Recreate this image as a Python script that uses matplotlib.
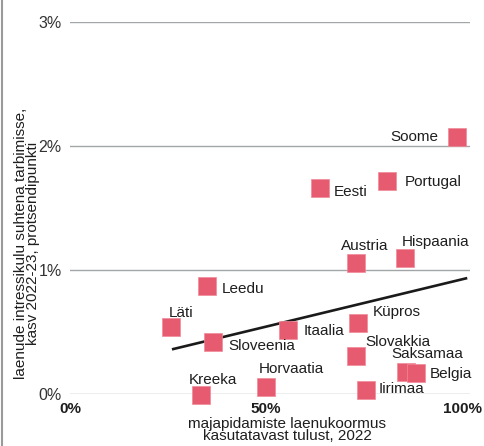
import matplotlib
matplotlib.use("Agg")
import matplotlib.pyplot as plt
from matplotlib.lines import Line2D

plt.rcParams['font.family'] = ['Liberation Sans', 'DejaVu Sans']

# data
countries = ["Soome", "Eesti", "Portugal", "Austria", "Hispaania", "Leedu", "Läti",
             "Sloveenia", "Itaalia", "Küpros", "Slovakkia", "Saksamaa", "Belgia",
             "Iirimaa", "Horvaatia", "Kreeka"]
debt_burden = [98.7, 63.8, 80.9, 73.0, 85.5, 34.9, 25.8, 36.5, 55.6, 73.5, 73.0,
               85.7, 88.3, 75.5, 50.0, 33.4]
interest_growth = [2.07, 1.66, 1.72, 1.06, 1.10, 0.87, 0.54, 0.42, 0.52, 0.57, 0.31,
                   0.18, 0.17, 0.03, 0.06, -0.01]
trend_x = [26.0, 101.3]
trend_y = [0.36, 0.935]
y_ticks = [0, 1, 2, 3]
x_ticks = [0, 50, 100]

# label placement (pixel offsets from marker, alignment)
label_pos = {
    "Soome": (-19, -4, "right"), "Eesti": (14, -8, "left"),
    "Portugal": (17, -5, "left"), "Austria": (8, 13, "center"),
    "Hispaania": (-4, 12, "left"), "Leedu": (15, -7, "left"),
    "Läti": (10, 10, "center"), "Sloveenia": (15, -8, "left"),
    "Itaalia": (16, -5, "left"), "Küpros": (15, 7, "left"),
    "Slovakkia": (9, 10, "left"), "Saksamaa": (-15, 14, "left"),
    "Belgia": (13, -5, "left"), "Iirimaa": (13, -3, "left"),
    "Horvaatia": (-7, 14, "left"), "Kreeka": (-12, 11, "left"),
}

W, H = 484, 446
fig = plt.figure(figsize=(W / 100, H / 100), dpi=100)
x0, x1 = 70, 470
y0, y1 = 394, 22
ax = fig.add_axes([x0 / W, (H - y0) / H, (x1 - x0) / W, (y0 - y1) / H])
ax.set_xlim(0, 102)
ax.set_ylim(0, 3)

for v in y_ticks:
    ax.axhline(v, color="#a3a6a8", lw=1.0, zorder=1)

ax.plot(trend_x, trend_y, color="#1a1a1a", lw=1.9, zorder=2, clip_on=False,
        solid_capstyle="butt")
ax.scatter(debt_burden, interest_growth, marker="s", s=170, color="#e65b6f",
           edgecolors="#f08a98", linewidths=0.5, zorder=3, clip_on=False)

for name, xv, yv in zip(countries, debt_burden, interest_growth):
    dx, dy, ha = label_pos[name]
    ax.annotate(name, (xv, yv), xytext=(dx, dy), textcoords="offset pixels",
                ha=ha, va="baseline", fontsize=11, color="#1e1e1e", zorder=4,
                annotation_clip=False)

for s in ax.spines.values():
    s.set_visible(False)
ax.set_yticks(y_ticks)
ax.set_yticklabels([f"{v}%" for v in y_ticks], fontsize=11.5, color="#333333")
ax.set_xticks(x_ticks)
ax.set_xticklabels([f"{v}%" for v in x_ticks], fontsize=11, fontweight="bold",
                   color="#1e1e1e")
ax.tick_params(axis="both", length=0)
ax.tick_params(axis="y", pad=6)
ax.tick_params(axis="x", pad=6)

fig.text(287 / W, (H - 417) / H, "majapidamiste laenukoormus\nkasutatavast tulust, 2022",
         ha="center", va="top", fontsize=11, color="#1e1e1e", linespacing=0.85)
fig.text(27 / W, (H - 243) / H,
         "laenude intressikulu suhtena tarbimisse,\nkasv 2022-23, protsendipunkti",
         rotation=90, ha="center", va="center", multialignment="center",
         fontsize=11, color="#1e1e1e", linespacing=0.9)

fig.add_artist(Line2D([1.5 / W, 1.5 / W], [0, 1], transform=fig.transFigure,
                      color="#9a9a9a", lw=1.5))

fig.savefig("out.png", dpi=100)
